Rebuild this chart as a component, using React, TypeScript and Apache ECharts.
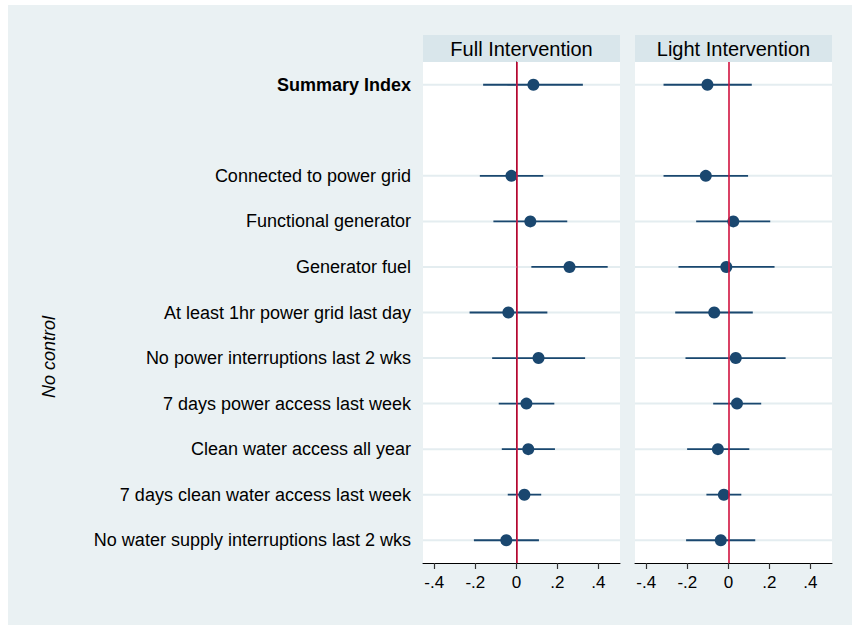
import React, { useEffect, useRef } from 'react';
import * as echarts from 'echarts';

const categories = [
  'Summary Index',
  '',
  'Connected to power grid',
  'Functional generator',
  'Generator fuel',
  'At least 1hr power grid last day',
  'No power interruptions last 2 wks',
  '7 days power access last week',
  'Clean water access all year',
  '7 days clean water access last week',
  'No water supply interruptions last 2 wks',
];

const fullEst = [0.083, null, -0.024, 0.068, 0.259, -0.039, 0.108, 0.049, 0.058, 0.039, -0.049];
const fullLo = [-0.162, null, -0.178, -0.112, 0.073, -0.228, -0.118, -0.086, -0.071, -0.042, -0.207];
const fullHi = [0.324, null, 0.131, 0.248, 0.445, 0.151, 0.335, 0.185, 0.188, 0.121, 0.110];

const lightEst = [-0.102, null, -0.110, 0.024, -0.010, -0.069, 0.036, 0.042, -0.051, -0.022, -0.037];
const lightLo = [-0.316, null, -0.316, -0.157, -0.243, -0.259, -0.209, -0.074, -0.201, -0.107, -0.206];
const lightHi = [0.114, null, 0.096, 0.204, 0.225, 0.119, 0.279, 0.160, 0.102, 0.063, 0.131];

const panelTitles = ['Full Intervention', 'Light Intervention'];
const xTicks = [-0.4, -0.2, 0, 0.2, 0.4];
const xTickLabels = ['-.4', '-.2', '0', '.2', '.4'];
const yTitle = 'No control';

const FONT = '"Liberation Sans", Arial, Helvetica, sans-serif';
const NAVY = '#1a476f';
const RED = '#d1123f';

export default function App() {
  const ref = useRef<HTMLDivElement>(null);

  useEffect(() => {
    if (!ref.current) return;
    const chart = echarts.init(ref.current, undefined, { renderer: 'svg' });

    const grids = [
      { left: 423, top: 62, width: 197, height: 501 },
      { left: 635, top: 62, width: 197, height: 501 },
    ];
    const panels = [
      { est: fullEst, lo: fullLo, hi: fullHi },
      { est: lightEst, lo: lightLo, hi: lightHi },
    ];

    const tickLabel = (v: number) => {
      const i = xTicks.findIndex((t) => Math.abs(t - v) < 1e-9);
      return i >= 0 ? xTickLabels[i] : '';
    };

    const series: any[] = [];
    panels.forEach((p, g) => {
      const rows = categories.map((c, i) => i).filter((i) => categories[i] !== '');
      // gridlines
      series.push({
        type: 'custom',
        xAxisIndex: g,
        yAxisIndex: g,
        z: 1,
        silent: true,
        data: rows.map((i) => [0, i]),
        renderItem: (params: any, api: any) => {
          const cs = params.coordSys;
          const y = api.coord([0, api.value(1)])[1];
          return {
            type: 'line',
            shape: { x1: cs.x, y1: y, x2: cs.x + cs.width, y2: y },
            style: { stroke: '#e4edf0', lineWidth: 2 },
          };
        },
      });
      // error bars
      const ebData = categories
        .map((c, i) => (p.est[i] === null ? null : [p.lo[i], p.hi[i], i]))
        .filter((d) => d !== null);
      series.push({
        type: 'custom',
        xAxisIndex: g,
        yAxisIndex: g,
        z: 2,
        silent: true,
        data: ebData,
        renderItem: (params: any, api: any) => {
          const a = api.coord([api.value(0), api.value(2)]);
          const b = api.coord([api.value(1), api.value(2)]);
          return {
            type: 'line',
            shape: { x1: a[0], y1: a[1], x2: b[0], y2: b[1] },
            style: { stroke: NAVY, lineWidth: 1.8 },
          };
        },
      });
      // reference line
      series.push({
        type: 'line',
        xAxisIndex: g,
        yAxisIndex: g,
        z: 3,
        data: [],
        silent: true,
        markLine: {
          silent: true,
          symbol: 'none',
          label: { show: false },
          lineStyle: { color: RED, width: 1.6, type: 'solid' },
          data: [{ xAxis: 0 }],
        },
      });
      // points
      series.push({
        type: 'scatter',
        xAxisIndex: g,
        yAxisIndex: g,
        z: 4,
        symbol: 'circle',
        symbolSize: 12,
        itemStyle: { color: NAVY, opacity: 1 },
        data: categories
          .map((c, i) => (p.est[i] === null ? null : [p.est[i], i]))
          .filter((d) => d !== null),
      });
    });

    const option: any = {
      animation: false,
      backgroundColor: '#ffffff',
      textStyle: { fontFamily: FONT },
      grid: grids.map((gr) => ({
        ...gr,
        show: true,
        backgroundColor: '#ffffff',
        borderWidth: 0,
        containLabel: false,
      })),
      xAxis: grids.map((gr, g) => ({
        type: 'value',
        gridIndex: g,
        min: -0.455,
        max: 0.505,
        axisLine: { show: true, onZero: false, lineStyle: { color: '#000', width: 1 } },
        axisTick: {
          show: true,
          length: 6,
          customValues: xTicks,
          lineStyle: { color: '#333', width: 1.2 },
        },
        axisLabel: {
          customValues: xTicks,
          formatter: (v: number) => tickLabel(v),
          fontSize: 17,
          color: '#000',
          fontFamily: FONT,
          margin: 11,
        },
        splitLine: { show: false },
      })),
      yAxis: grids.map((gr, g) => ({
        type: 'category',
        gridIndex: g,
        inverse: true,
        data: categories,
        boundaryGap: true,
        axisLine: { show: g === 0, lineStyle: { color: '#000', width: 1 } },
        axisTick: {
          show: g === 0,
          alignWithLabel: true,
          length: 9,
          interval: (index: number, value: string) => value !== '',
          lineStyle: { color: '#333', width: 1 },
        },
        axisLabel: {
          show: g === 0,
          interval: 0,
          margin: 12,
          fontSize: 18,
          color: '#000',
          fontFamily: FONT,
          formatter: (v: string, i: number) => (i === 0 ? `{b|${v}}` : v),
          rich: {
            b: { fontWeight: 'bold', fontSize: 18, color: '#000', fontFamily: FONT },
          },
        },
        splitLine: { show: false },
      })),
      graphic: [
        {
          type: 'rect',
          z: -10,
          silent: true,
          shape: { x: 8, y: 5, width: 844, height: 620 },
          style: { fill: '#eaf1f3' },
        },
        ...grids.map((gr, g) => ({
          type: 'rect',
          z: -5,
          silent: true,
          shape: { x: gr.left, y: 35, width: gr.width, height: 27 },
          style: { fill: '#d9e6eb' },
        })),
        ...grids.map((gr, g) => ({
          type: 'text',
          z: 5,
          silent: true,
          x: gr.left + gr.width / 2,
          y: 48.5,
          style: {
            text: panelTitles[g],
            fontSize: 20,
            fontFamily: FONT,
            fill: '#000',
            textAlign: 'center',
            textVerticalAlign: 'middle',
          },
        })),
        {
          type: 'text',
          silent: true,
          x: 49,
          y: 357,
          rotation: Math.PI / 2,
          style: {
            text: yTitle,
            fontSize: 18,
            fontStyle: 'italic',
            fontFamily: FONT,
            fill: '#000',
            textAlign: 'center',
            textVerticalAlign: 'middle',
          },
        },
      ],
      series,
    };

    chart.setOption(option);
    return () => chart.dispose();
  }, []);

  return (
    <div
      ref={ref}
      style={{ position: 'fixed', left: 0, top: 0, width: 852, height: 625, background: '#fff' }}
    />
  );
}
